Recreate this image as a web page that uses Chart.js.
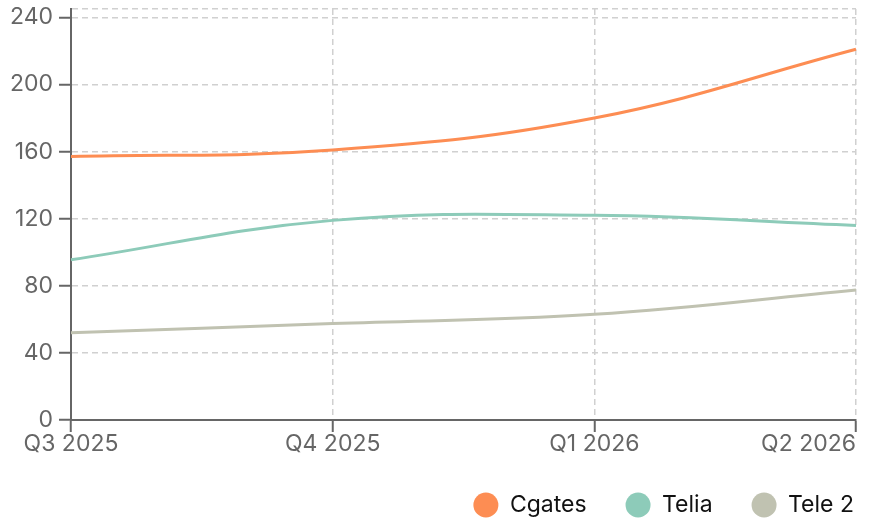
<!DOCTYPE html>
<html><head><meta charset="utf-8">
<script src="https://cdn.jsdelivr.net/npm/chart.js@4/dist/chart.umd.min.js"></script>
<style>html,body{margin:0;padding:0;background:#fff;}#wrap{width:873px;height:520px;position:relative;}</style>
</head><body><div id="wrap"><canvas id="c"></canvas></div>
<script>
const categories = ['Q3 2025', 'Q4 2025', 'Q1 2026', 'Q2 2026'];
const seriesNames = ['Cgates', 'Telia', 'Tele 2'];
const cgates = [157, 161, 180, 221];
const telia = [95.5, 119, 122, 116];
const tele2 = [52, 57.5, 63, 77.5];
const yTickValues = [0, 40, 80, 120, 160, 200, 240];
const yTop = 245;
const colors = ['#fd8d53', '#8dcbb9', '#c0c2b1'];

const TICK_FONT = {family: 'Inter', size: 23};
const GRID = '#d0d0d0';
const AXIS = '#666666';

const lastLabelPlugin = {
  id: 'lastLabel',
  afterDraw(chart) {
    const xs = chart.scales.x;
    const items = xs.getLabelItems();
    const i = categories.length - 1;
    const it = items[i];
    if (!it) return;
    const ctx = chart.ctx;
    ctx.save();
    ctx.font = `${TICK_FONT.size}px ${TICK_FONT.family}`;
    ctx.fillStyle = AXIS;
    ctx.textAlign = 'right';
    ctx.textBaseline = it.options.textBaseline;
    ctx.fillText(categories[i], xs.getPixelForTick(i), it.options.translation[1] + it.textOffset);
    ctx.restore();
  }
};

const data = {
  labels: categories,
  datasets: [cgates, telia, tele2].map((v, k) => ({
    label: seriesNames[k],
    data: v,
    borderColor: colors[k],
    backgroundColor: colors[k],
    borderWidth: 3,
    pointRadius: 0,
    pointHoverRadius: 0,
    tension: 0.4,
    fill: false
  }))
};

new Chart(document.getElementById('c'), {
  type: 'line',
  data,
  plugins: [lastLabelPlugin],
  options: {
    responsive: true,
    maintainAspectRatio: false,
    animation: false,
    devicePixelRatio: 1,
    layout: {padding: {top: 9, right: -20, bottom: -7.5, left: 0}},
    plugins: {
      tooltip: {enabled: false},
      legend: {
        position: 'bottom',
        align: 'end',
        labels: {
          font: {family: 'Inter', size: 23},
          color: '#111111',
          boxWidth: 25,
          boxHeight: 25,
          useBorderRadius: true,
          borderRadius: 12.5,
          padding: 39,
          generateLabels(chart) {
            return Chart.defaults.plugins.legend.labels.generateLabels(chart).map(l => ({...l, lineWidth: 0}));
          }
        }
      }
    },
    scales: {
      x: {
        offset: false,
        afterFit(s) { s.height = 33.5; },
        grid: {
          color: GRID, lineWidth: 1.5, drawTicks: true,
          tickLength: 12, tickColor: AXIS, tickWidth: 2, tickBorderDash: []
        },
        border: {display: true, color: AXIS, width: 2, dash: [6, 4]},
        ticks: {
          font: TICK_FONT, color: AXIS, padding: -2, maxRotation: 0, autoSkip: false,
          callback(v, i) { return i === categories.length - 1 ? '' : categories[i]; }
        }
      },
      y: {
        min: 0, max: yTop,
        afterFit(s) { s.width = 71; },
        afterBuildTicks(s) { s.ticks = yTickValues.concat([yTop]).map(v => ({value: v})); },
        grid: {
          color: GRID, lineWidth: 1.5, drawTicks: true, tickLength: 12,
          tickColor: ctx => (ctx.tick && ctx.tick.value === yTop) ? 'rgba(0,0,0,0)' : AXIS,
          tickWidth: 2, tickBorderDash: []
        },
        border: {display: true, color: AXIS, width: 2, dash: [6, 4]},
        ticks: {
          color: AXIS, padding: 6,
          font: ctx => (ctx.tick && ctx.tick.value === yTop) ? {family: 'Inter', size: 1} : TICK_FONT,
          callback(v) { return v === yTop ? '' : String(v); }
        }
      },
      y2: {
        position: 'right', display: true,
        afterFit(s) { s.width = 37; },
        grid: {display: false, drawTicks: false},
        border: {display: false},
        ticks: {display: false}
      }
    }
  }
});
</script>
</body></html>
